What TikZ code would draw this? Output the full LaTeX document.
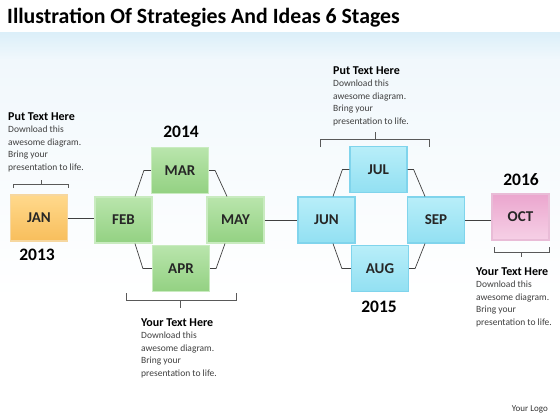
\documentclass[tikz,border=0pt]{standalone}
\usepackage{fontspec}
\setmainfont{Carlito}
\usetikzlibrary{positioning}

\definecolor{bgTop}{HTML}{DCEFF9}
\definecolor{bgMid}{HTML}{F1F8FC}
\definecolor{janTop}{HTML}{FFD98C}
\definecolor{janBot}{HTML}{F8BE5C}
\definecolor{janEdge}{HTML}{F6D7A0}
\definecolor{grnTop}{HTML}{B9E5AC}
\definecolor{grnBot}{HTML}{93D182}
\definecolor{grnEdge}{HTML}{C9EBC0}
\definecolor{bluTop}{HTML}{B8EEF9}
\definecolor{bluBot}{HTML}{92E0F2}
\definecolor{bluEdge}{HTML}{80D4EC}
\definecolor{pnkTop}{HTML}{EBA6CE}
\definecolor{pnkBot}{HTML}{F6D0E6}
\definecolor{pnkEdge}{HTML}{E9BCD7}

\tikzset{
  month/.style={minimum width=57pt, minimum height=46pt, inner sep=0pt, line width=1.2pt,
    font=\fontsize{15}{15}\selectfont\bfseries, text=black!85},
  janbox/.style={month, draw=janEdge, top color=janTop, bottom color=janBot},
  grnbox/.style={month, draw=grnEdge, top color=grnTop, bottom color=grnBot},
  blubox/.style={month, draw=bluEdge, top color=bluTop, bottom color=bluBot},
  pnkbox/.style={month, draw=pnkEdge, top color=pnkTop, bottom color=pnkBot},
  link/.style={draw=black!75, line width=0.7pt},
  brace/.style={draw=black!65, line width=0.6pt},
  head/.style={font=\fontsize{12}{13}\selectfont\bfseries, inner sep=0pt, anchor=west},
  body/.style={font=\fontsize{9.5}{12.4}\selectfont, text=black!75, align=left, inner sep=0pt},
  year/.style={font=\fontsize{17.5}{17.5}\selectfont\bfseries}
}

\begin{document}
\begin{tikzpicture}[x=1pt, y=-1pt]
        % Page and background
        \useasboundingbox (0,0) rectangle (560,420);
        \fill[white] (0,0) rectangle (560,420);
        \fill[top color=bgTop, bottom color=bgMid] (0,33) rectangle (560,60);
        \fill[top color=bgMid, bottom color=white] (0,60) rectangle (560,300);
        \node[anchor=west, inner sep=0pt, font=\fontsize{21.8}{21.8}\selectfont\bfseries] (title) at (7,18)
            {Illustration Of Strategies And Ideas 6 Stages};

        % Month boxes
        \node[janbox] (jan) at (39,218) {JAN};
        \node[grnbox] (feb) at (123.5,220) {FEB};
        \node[grnbox] (mar) at (180,170.5) {MAR};
        \node[grnbox] (apr) at (181,268.5) {APR};
        \node[grnbox] (may) at (235.5,220) {MAY};
        \node[blubox] (jun) at (326.5,220) {JUN};
        \node[blubox] (jul) at (378.5,169.5) {JUL};
        \node[blubox] (aug) at (380,268.5) {AUG};
        \node[blubox] (sep) at (436,220) {SEP};
        \node[pnkbox] (oct) at (520.5,217) {OCT};

        % Straight links
        \draw[link] (jan.east) -- (jan.east -| feb.west);
        \draw[link] (may.east) -- (jun.west);
        \draw[link] (sep.east) -- (sep.east -| oct.west);

        % Diamond links, green
        \draw[link] ([xshift=11.5pt]feb.north) -- ([xshift=-7pt]mar.west) -- (mar.west);
        \draw[link] (mar.east) -- ([xshift=6pt]mar.east) -- ([xshift=-8.5pt]may.north);
        \draw[link] ([xshift=11.5pt]feb.south) -- ([xshift=-9pt]apr.west) -- (apr.west);
        \draw[link] (apr.east) -- ([xshift=6pt]apr.east) -- ([xshift=-10.5pt]may.south);

        % Diamond links, blue
        \draw[link] ([xshift=6.5pt]jun.north) -- ([xshift=-7pt]jul.west) -- (jul.west);
        \draw[link] (jul.east) -- ([xshift=6pt]jul.east) -- ([xshift=-11pt]sep.north);
        \draw[link] ([xshift=6.5pt]jun.south) -- ([xshift=-9pt]aug.west) -- (aug.west);
        \draw[link] (aug.east) -- ([xshift=6pt]aug.east) -- ([xshift=-11pt]sep.south);

        % Brackets
        \draw[brace] (13,188) -- (13,184) -- (68,184) -- (68,188);
        \draw[brace] (41,184) -- (41,180);
        \draw[brace] (126,293) -- (126,300) -- (236,300) -- (236,293);
        \draw[brace] (180,300) -- (180,308);
        \draw[brace] (320,147) -- (320,139) -- (429,139) -- (429,147);
        \draw[brace] (375,139) -- (375,132);
        \draw[brace] (494,247) -- (494,252) -- (549,252) -- (549,247);
        \draw[brace] (521,252) -- (521,257);

        % Years
        \node[year] (y13) at (37,255) {2013};
        \node[year] (y14) at (181,132) {2014};
        \node[year] (y15) at (379,307) {2015};
        \node[year] (y16) at (521,180) {2016};

        % Text blocks
        \node[head] (h1) at (8,117) {Put Text Here};
        \node[body, below=5pt of h1.south west, anchor=north west] (b1)
            {Download this\\awesome diagram.\\Bring your\\presentation to life.};
        \node[head] (h2) at (333,71) {Put Text Here};
        \node[body, below=5pt of h2.south west, anchor=north west] (b2)
            {Download this\\awesome diagram.\\Bring your\\presentation to life.};
        \node[head] (h3) at (141,323) {Your Text Here};
        \node[body, below=5pt of h3.south west, anchor=north west] (b3)
            {Download this\\awesome diagram.\\Bring your\\presentation to life.};
        \node[head] (h4) at (476,272) {Your Text Here};
        \node[body, below=5pt of h4.south west, anchor=north west] (b4)
            {Download this\\awesome diagram.\\Bring your\\presentation to life.};

        % Logo
        \node[anchor=east, inner sep=0pt, font=\fontsize{9}{9}\selectfont, text=black!80] (logo) at (548,409) {Your Logo};
    \end{tikzpicture}
\end{document}
